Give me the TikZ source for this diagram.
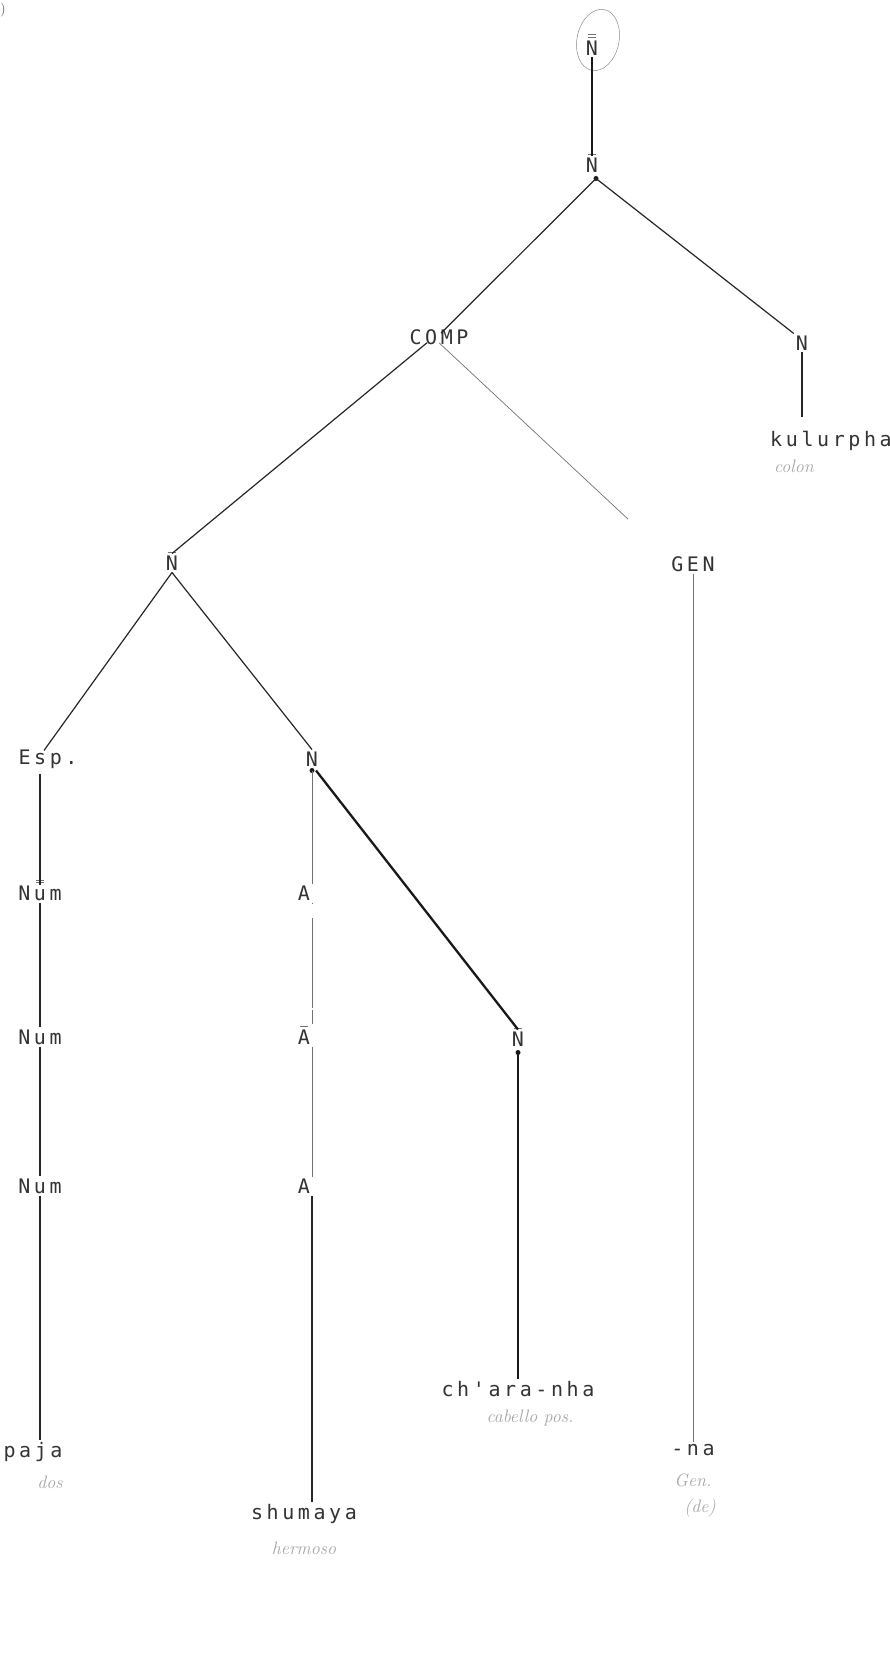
\documentclass[tikz,border=0pt]{standalone}
\usepackage{fontspec}
\newfontfamily\typefont[LetterSpace=18]{DejaVu Sans Mono}
\begin{document}
\begin{tikzpicture}[x=1pt,y=-1pt,
  lab/.style={font=\typefont\fontsize{20}{20}\selectfont, text=black!80, inner sep=2pt},
  hand/.style={font=\itshape\fontsize{18}{18}\selectfont, text=black!35},
  br/.style={line width=1.2pt, draw=black!85},
  thk/.style={line width=2.3pt, draw=black!90},
  thn/.style={line width=0.7pt, draw=black!55},
  barl/.style={line width=0.6pt, draw=black!55},
  dotn/.style={circle, fill=black!90, inner sep=0pt, minimum size=5pt}]
\useasboundingbox (0,0) rectangle (890,1671);
\fill[white] (0,0) rectangle (890,1671);

% nodes
\node[lab] (topN) at (592,48) {N};
\node[lab] (n2) at (592,165) {N};
\node[lab] (comp) at (439,337) {COMP};
\node[lab] (nR) at (802,343) {N};
\node[lab] (kul) at (831,441) {kulurpha};
\node[lab] (nL) at (172,563) {N};
\node[lab] (gen) at (693,564) {GEN};
\node[lab] (esp) at (48,759) {Esp.};
\node[lab] (nM) at (312,759) {N};
\node[lab] (num1) at (40,893) {Num};
\node[lab] (a1) at (304,893) {A};
\node[lab] (num2) at (40,1037) {Num};
\node[lab] (a2) at (304,1037) {A};
\node[lab] (nB) at (518,1039) {N};
\node[lab] (num3) at (40,1186) {Num};
\node[lab] (a3) at (304,1186) {A};
\node[lab] (chara) at (518,1389) {ch'ara-nha};
\node[lab] (paja) at (33,1452) {paja};
\node[lab] (na) at (693,1450) {-na};
\node[lab] (shum) at (304,1514) {shumaya};

% handwritten glosses
\node[hand] (hcolon) at (794,466) {colon};
\node[hand] (hcab) at (530,1418) {cabello pos.};
\node[hand] (hdos) at (50,1482) {dos};
\node[hand] (hgen) at (693,1480) {Gen.};
\node[hand] (hde) at (700,1508) {(de)};
\node[hand] (hherm) at (304,1548) {hermoso};
\node[font=\fontsize{14}{14}\selectfont, text=black!70] (paren) at (3,10) {)};

% circle round the top node
\draw[line width=0.5pt, black!45, rotate around={-12:(598,40)}] (598,40) ellipse (21 and 31);

% bars
\draw[barl] ([xshift=-4pt,yshift=4pt]topN.north) -- ++(8,0);
\draw[barl] ([xshift=-4pt,yshift=1.5pt]topN.north) -- ++(8,0);
\draw[barl] ([xshift=-4pt,yshift=1pt]n2.north) -- ++(8,0);
\draw[barl] ([xshift=-4pt,yshift=1pt]nL.north) -- ++(8,0);
\draw[barl] ([xshift=-4pt,yshift=3pt]num1.north) -- ++(8,0);
\draw[barl] ([xshift=-4pt,yshift=1pt]num1.north) -- ++(8,0);
\draw[barl] ([xshift=-4pt,yshift=1pt]a2.north) -- ++(8,0);
\draw[barl] ([xshift=-4pt,yshift=1pt]nB.north) -- ++(8,0);

% junction dots
\node[dotn] (d2) at ([xshift=4pt,yshift=-4pt]n2.south) {};
\node[dotn] (dM) at ([yshift=-2pt]nM.south) {};
\node[dotn] (dB) at ([yshift=-4pt]nB.south) {};

% free ends
\coordinate (genend) at ([xshift=-41pt,yshift=35pt]gen.north west);
\coordinate (kulend) at ([yshift=12pt]kul.north -| nR);

% branches
\draw[thk] (topN) -- (n2);
\draw[br] (d2.center) -- ([xshift=2pt,yshift=-6pt]comp.north);
\draw[br] (d2.center) -- (nR.north west);
\draw[br] (nR.south) -- (kulend);
\draw[br] ([xshift=-12pt,yshift=4pt]comp.south) -- (nL.north);
\draw[thn] ([xshift=0pt,yshift=4pt]comp.south) -- (genend);
\draw[thn] (gen.south) -- (na.north);
\draw[br] (nL.south) -- ([xshift=-4pt,yshift=-3pt]esp.north);
\draw[br] (nL.south) -- (nM.north);
\draw[br] ([yshift=-3pt]esp.south -| num1) -- ([yshift=-2pt]num1.north);
\draw[br] (num1.south) -- (num2.north);
\draw[br] (num2.south) -- (num3.north);
\draw[br] (num3.south) -- (paja.north -| num3);
\draw[thn] (dM.center) -- (a1.north -| dM);
\draw[thn, dash pattern=on 1.5pt off 14pt on 90pt] (a1.south -| dM) -- (a2.north -| dM);
\draw[thn] (a2.south -| dM) -- (a3.north -| dM);
\draw[br] (a3.south -| dM) -- (shum.north -| dM);
\draw[thk] ([xshift=4pt]dM.center) -- (nB.north);
\draw[thk] (dB.center) -- (chara.north);
\end{tikzpicture}
\end{document}
